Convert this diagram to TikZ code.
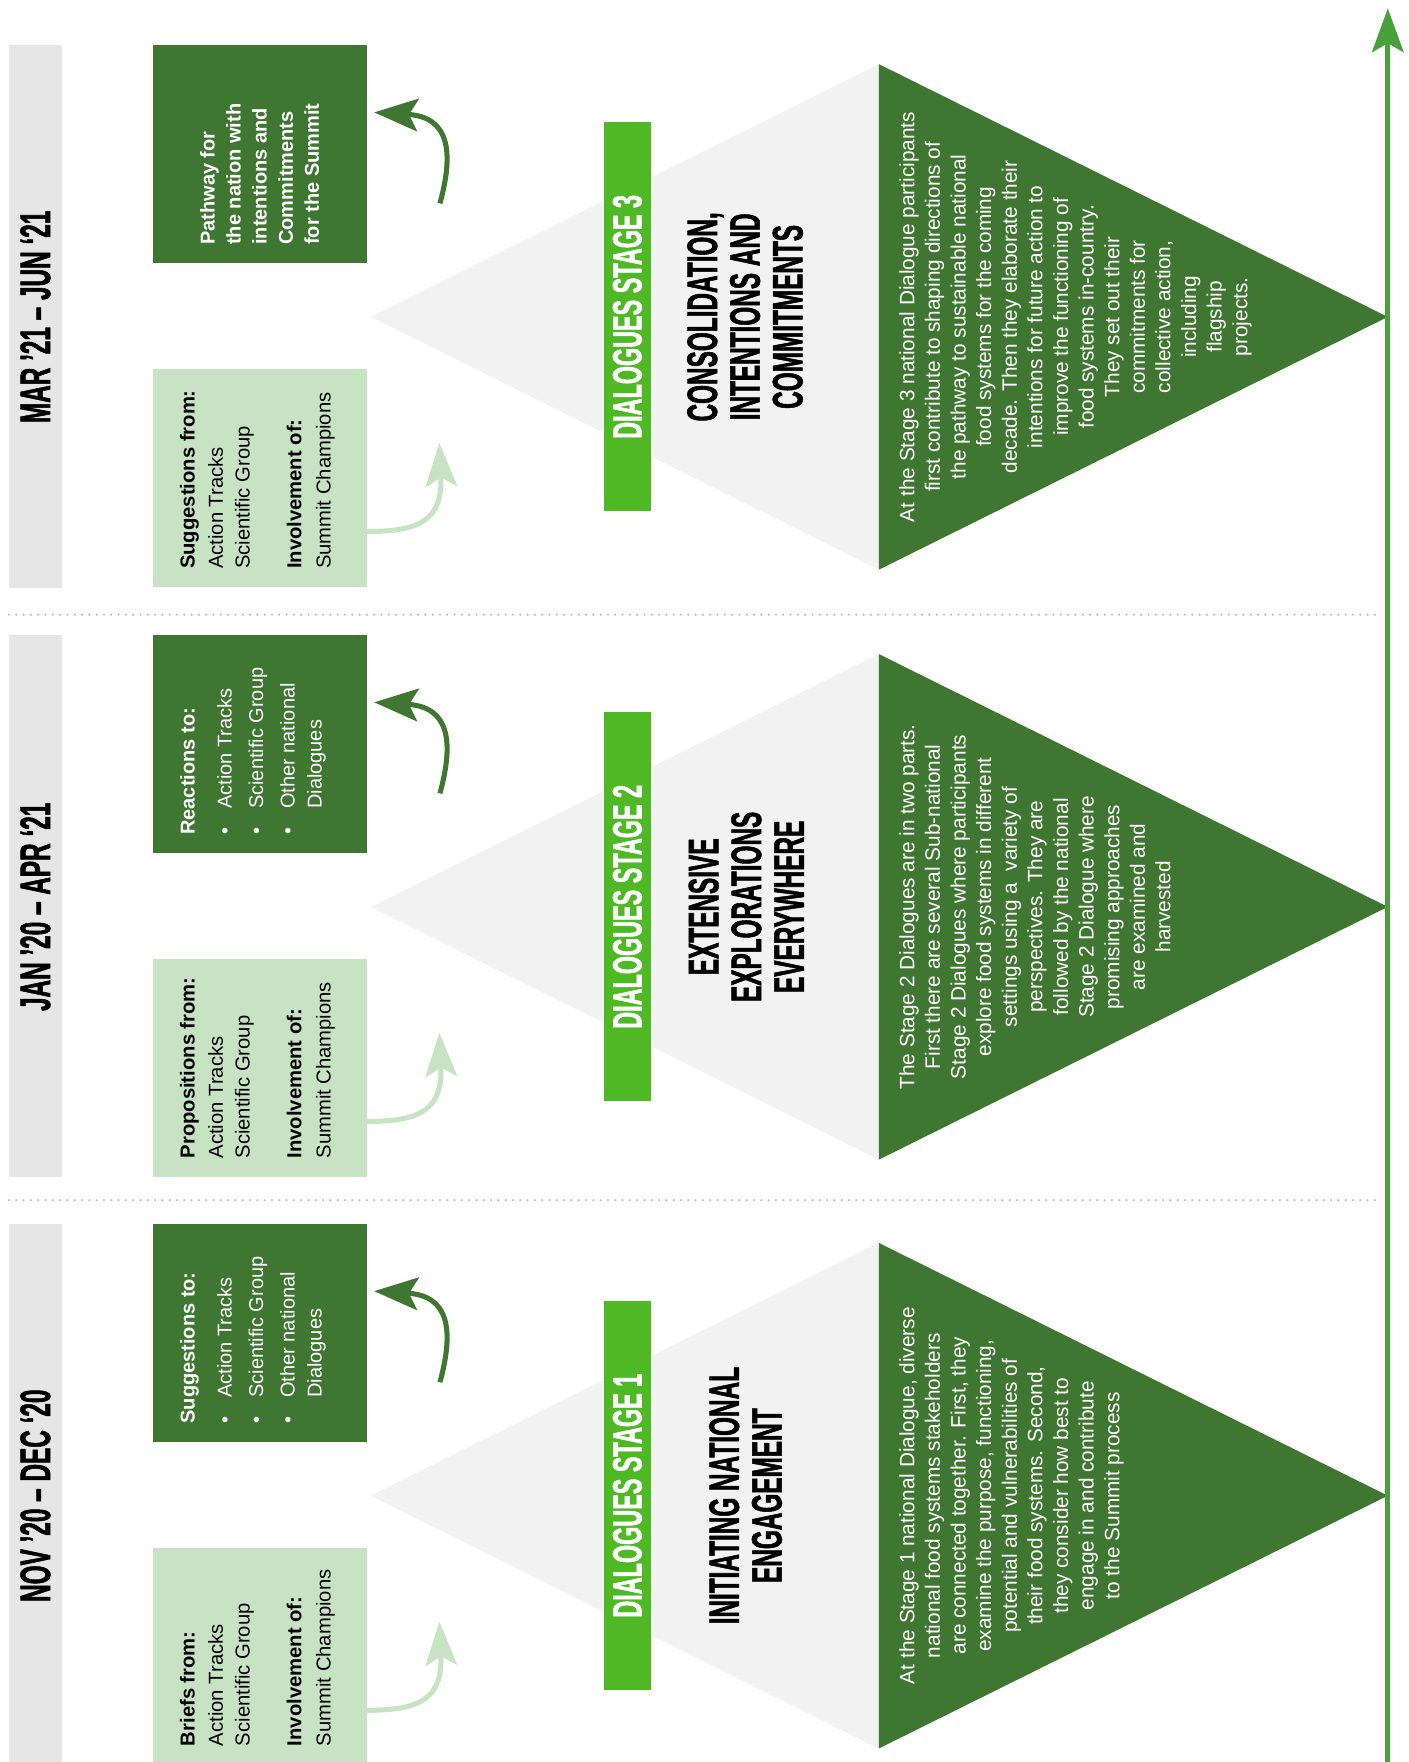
\documentclass[tikz,border=0pt]{standalone}
\usepackage{fontspec}
\setmainfont{Liberation Sans}
\newfontfamily\condfont{Liberation Sans}[FakeStretch=0.57,FakeBold=1.2]
\usetikzlibrary{arrows.meta}
\definecolor{darkg}{HTML}{3F7631}
\definecolor{lightg}{HTML}{C8E3C4}
\definecolor{brightg}{HTML}{4EB925}
\definecolor{axisg}{HTML}{48A03A}
\definecolor{trigray}{HTML}{F2F2F2}
\definecolor{dategray}{HTML}{E6E6E6}
\definecolor{dotgray}{HTML}{BDBDBD}
\newcommand{\bul}{\makebox[23pt][l]{•}}
\begin{document}
\begin{tikzpicture}[x=1pt,y=-1pt,
  datebar/.style={fill=dategray,draw=none,inner sep=0pt,anchor=north west,minimum width=47pt},
  datetext/.style={rotate=90,inner sep=0pt,font=\condfont\bfseries\fontsize{38}{38}\selectfont},
  darkbox/.style={fill=darkg,draw=none,inner sep=0pt,anchor=north west,minimum width=190.5pt,minimum height=194pt},
  lightbox/.style={fill=lightg,draw=none,inner sep=0pt,anchor=north west,minimum width=190.5pt,minimum height=194pt},
  darktext/.style={rotate=90,text=white,align=left,inner sep=0pt,font=\fontsize{17.8}{24}\selectfont},
  lighttext/.style={rotate=90,text=black,align=left,inner sep=0pt,anchor=north west,font=\fontsize{18}{24}\selectfont},
  stagebar/.style={rotate=90,fill=brightg,text=white,minimum width=346pt,minimum height=41.5pt,inner sep=0pt,font=\condfont\bfseries\fontsize{36.5}{36.5}\selectfont},
  headtext/.style={rotate=90,align=center,inner sep=0pt,font=\condfont\bfseries\fontsize{38}{38}\selectfont},
  bodytext/.style={rotate=90,align=center,anchor=north,inner sep=0pt,text=white,font=\fontsize{18.5}{22.8}\selectfont},
  darkarrow/.style={draw=darkg,line width=4.5pt,-{Stealth[length=39pt,width=29pt,inset=8pt]}},
  lightarrow/.style={draw=lightg,line width=4.5pt,-{Stealth[length=39pt,width=28pt,inset=8pt]}},
  sepline/.style={draw=dotgray,line width=2.2pt,line cap=round,dash pattern=on 0pt off 6.5pt},
  axisline/.style={draw=axisg,line width=4.5pt,-{Stealth[length=39pt,width=28pt,inset=8pt]}}
]
\useasboundingbox (0,0) rectangle (1253,1568);

% separators
\coordinate (sepAa) at (8,547); \coordinate (sepAb) at (1230,547);
\coordinate (sepBa) at (8,1068); \coordinate (sepBb) at (1230,1068);
\draw[sepline] (sepAa) -- (sepAb);
\draw[sepline] (sepBa) -- (sepBb);

% ---------------- Section 3 ----------------
\begin{scope}[shift={(0,282)}]
 \node[datebar,minimum height=483pt] (date3) at (8,-242) {};
 \node[datetext] (date3t) at (31.5,0) {MAR ’21 – JUN ‘21};
 \node[darkbox] (dark3) at (136,-242) {};
 \node[lightbox] (light3) at (136,46.6) {};
 \fill[trigray] (330,0) -- (782,-225) -- (782,225) -- cycle;
 \node[stagebar] (stage3) at (558.3,0) {DIALOGUES STAGE 3};
 \node[headtext] (head3) at (663,0) {CONSOLIDATION,\\INTENTIONS AND\\COMMITMENTS};
 \fill[darkg] (782,-225) -- (1235,0) -- (782,225) -- cycle;
 \node[bodytext] (body3) at (800,0) {At the Stage 3 national Dialogue participants\\first contribute to shaping directions of\\the pathway to sustainable national\\food systems for the coming\\decade. Then they elaborate their\\intentions for future action to\\improve the functioning of\\food systems in-country.\\They set out their\\commitments for\\collective action,\\including\\flagship\\projects.};
 \node[darktext,anchor=west,font=\fontsize{17.8}{23.2}\selectfont\bfseries] (dark3t) at (231,-64) {Pathway for\\the nation with\\intentions and\\Commitments\\for the Summit};
 \node[lighttext] (light3t) at (160,224.5) {\textbf{Suggestions from:}\\[1pt]Action Tracks\\Scientific Group\\[22pt]\textbf{Involvement of:}\\[2pt]Summit Champions};
 \coordinate (da3s) at (391.5,-101); \coordinate (da3e) at (333,-182);
 \draw[darkarrow] (da3s) .. controls (404,-147) and (400,-178) .. (da3e);
 \coordinate (la3s) at (326.6,191); \coordinate (la3e) at (391,112);
 \draw[lightarrow] (la3s) .. controls (375,191) and (394,180) .. (la3e);
\end{scope}

% ---------------- Section 2 ----------------
\begin{scope}[shift={(0,807)}]
 \node[datebar,minimum height=482pt] (date2) at (8,-242) {};
 \node[datetext] (date2t) at (31.5,0) {JAN ’20 – APR ‘21};
 \node[darkbox] (dark2) at (136,-242.5) {};
 \node[lightbox] (light2) at (136,46) {};
 \fill[trigray] (330,0) -- (782,-225) -- (782,225) -- cycle;
 \node[stagebar] (stage2) at (558.3,0) {DIALOGUES STAGE 2};
 \node[headtext] (head2) at (664,0) {EXTENSIVE\\EXPLORATIONS\\EVERYWHERE};
 \fill[darkg] (782,-225) -- (1235,0) -- (782,225) -- cycle;
 \node[bodytext] (body2) at (800,0) {The Stage 2 Dialogues are in two parts.\\First there are several Sub-national\\Stage 2 Dialogues where participants\\explore food systems in different\\settings using a~ variety of\\perspectives. They are\\followed by the national\\Stage 2 Dialogue where\\promising approaches\\are examined and\\harvested};
 \node[darktext,anchor=north west] (dark2t) at (160,-64) {\textbf{Reactions to:}\\[9pt]\bul Action Tracks\\[4pt]\bul Scientific Group\\[4pt]\bul Other national\\\hspace*{23pt}Dialogues};
 \node[lighttext] (light2t) at (160,224) {\textbf{Propositions from:}\\[1pt]Action Tracks\\Scientific Group\\[22pt]\textbf{Involvement of:}\\[2pt]Summit Champions};
 \coordinate (da2s) at (391.5,-101); \coordinate (da2e) at (333,-182);
 \draw[darkarrow] (da2s) .. controls (404,-147) and (400,-178) .. (da2e);
 \coordinate (la2s) at (326.6,191); \coordinate (la2e) at (391,112);
 \draw[lightarrow] (la2s) .. controls (375,191) and (394,180) .. (la2e);
\end{scope}

% ---------------- Section 1 ----------------
\begin{scope}[shift={(0,1331)}]
 \node[datebar,minimum height=480pt] (date1) at (8,-242) {};
 \node[datetext] (date1t) at (31.5,0) {NOV ’20 – DEC ‘20};
 \node[darkbox] (dark1) at (136,-242.4) {};
 \node[lightbox,minimum height=191pt] (light1) at (136,46.6) {};
 \fill[trigray] (330,0) -- (782,-225) -- (782,225) -- cycle;
 \node[stagebar] (stage1) at (558.3,0) {DIALOGUES STAGE 1};
 \node[headtext] (head1) at (663.5,0) {INITIATING NATIONAL\\ENGAGEMENT};
 \fill[darkg] (782,-225) -- (1235,0) -- (782,225) -- cycle;
 \node[bodytext] (body1) at (800,0) {At the Stage 1 national Dialogue, diverse\\national food systems stakeholders\\are connected together. First, they\\examine the purpose, functioning,\\potential and vulnerabilities of\\their food systems. Second,\\they consider how best to\\engage in and contribute\\to the Summit process};
 \node[darktext,anchor=north west] (dark1t) at (160,-64) {\textbf{Suggestions to:}\\[9pt]\bul Action Tracks\\[4pt]\bul Scientific Group\\[4pt]\bul Other national\\\hspace*{23pt}Dialogues};
 \node[lighttext] (light1t) at (160,223) {\textbf{Briefs from:}\\[1pt]Action Tracks\\Scientific Group\\[22pt]\textbf{Involvement of:}\\[2pt]Summit Champions};
 \coordinate (da1s) at (391.5,-101); \coordinate (da1e) at (333,-182);
 \draw[darkarrow] (da1s) .. controls (404,-147) and (400,-178) .. (da1e);
 \coordinate (la1s) at (326.6,191); \coordinate (la1e) at (391,112);
 \draw[lightarrow] (la1s) .. controls (375,191) and (394,180) .. (la1e);
\end{scope}

% axis
\coordinate (axb) at (1235,1575); \coordinate (axt) at (1235,7.4);
\draw[axisline] (axb) -- (axt);
\end{tikzpicture}
\end{document}
